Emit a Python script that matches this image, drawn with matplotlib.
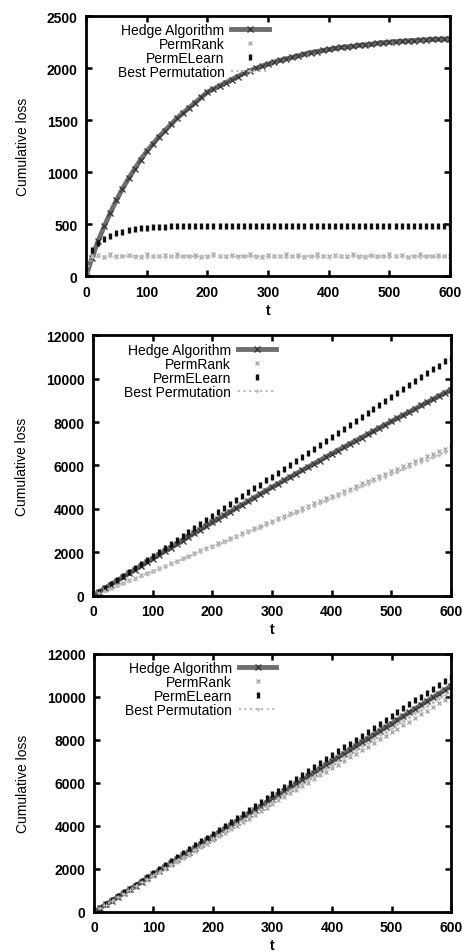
import matplotlib
matplotlib.use("Agg")
import matplotlib.pyplot as plt

plt.rcParams['font.family'] = ['Liberation Sans', 'DejaVu Sans']

t = list(range(0, 601, 10))

# panel 1
hedge_1 = [0, 180, 340, 480, 610, 730, 840, 940, 1030, 1120, 1200, 1270, 1340, 1400, 1460, 1520,
           1570, 1620, 1670, 1720, 1770, 1800, 1830, 1860, 1890, 1920, 1950, 1975, 2000, 2020, 2040,
           2060, 2075, 2090, 2105, 2120, 2135, 2150, 2160, 2170, 2180, 2190, 2200, 2205, 2210, 2220,
           2225, 2230, 2240, 2245, 2250, 2255, 2258, 2262, 2266, 2270, 2273, 2276, 2278, 2280, 2282]
rank_1 = [40, 195, 205, 190, 210, 200, 195, 205, 200, 190, 210, 200, 195, 205, 200, 210, 195, 200,
          205, 190, 200, 210, 195, 200, 205, 200, 195, 210, 200, 190, 205, 200, 195, 210, 200, 205,
          190, 200, 210, 195, 200, 205, 200, 195, 210, 200, 190, 205, 200, 195, 210, 200, 205, 190,
          200, 210, 195, 200, 205, 200, 195]
elearn_1 = [60, 250, 320, 360, 390, 415, 430, 445, 455, 462, 468, 472, 476, 478, 480, 480, 482, 480,
            481, 480, 482, 481, 480, 482, 480, 481, 482, 480, 481, 480, 482, 481, 480, 482, 480, 481,
            482, 480, 481, 480, 482, 481, 480, 482, 480, 481, 482, 480, 481, 480, 482, 481, 480, 482,
            480, 481, 482, 480, 481, 480, 482]
best_1 = [40, 185, 195, 190, 195, 190, 195, 195, 190, 195, 190, 195, 195, 190, 195, 190, 195, 195,
          190, 195, 190, 195, 195, 190, 195, 190, 195, 195, 190, 195, 190, 195, 195, 190, 195, 190,
          195, 195, 190, 195, 190, 195, 195, 190, 195, 190, 195, 195, 190, 195, 190, 195, 195, 190,
          195, 190, 195, 195, 190, 195, 190]

# panel 2
hedge_2 = [0, 170, 340, 510, 680, 850, 1020, 1190, 1360, 1530, 1700, 1870, 2040, 2200, 2370, 2540,
           2710, 2880, 3040, 3210, 3380, 3540, 3700, 3870, 4030, 4190, 4350, 4510, 4680, 4840, 5000,
           5150, 5310, 5460, 5620, 5770, 5920, 6080, 6230, 6390, 6540, 6690, 6840, 6990, 7140, 7290,
           7430, 7580, 7730, 7880, 8030, 8180, 8320, 8470, 8620, 8770, 8910, 9060, 9210, 9350, 9500]
rank_2 = [0, 120, 240, 350, 470, 570, 700, 800, 930, 1040, 1150, 1270, 1380, 1500, 1600, 1730, 1840,
          1950, 2080, 2180, 2300, 2420, 2530, 2640, 2770, 2870, 2990, 3100, 3220, 3330, 3450, 3560,
          3680, 3790, 3900, 4030, 4130, 4250, 4370, 4480, 4600, 4700, 4830, 4930, 5060, 5170, 5280,
          5400, 5510, 5620, 5750, 5850, 5980, 6080, 6210, 6320, 6430, 6550, 6650, 6780, 6900]
elearn_2 = [0, 180, 370, 550, 730, 920, 1100, 1280, 1460, 1650, 1830, 2010, 2200, 2380, 2560, 2750,
            2930, 3110, 3290, 3480, 3660, 3840, 4030, 4210, 4390, 4580, 4760, 4940, 5120, 5310, 5490,
            5670, 5860, 6040, 6220, 6410, 6590, 6770, 6950, 7140, 7320, 7500, 7690, 7870, 8050, 8240,
            8420, 8600, 8780, 8970, 9150, 9330, 9520, 9700, 9880, 10070, 10250, 10430, 10610, 10800,
            10980]
best_2 = [0, 110, 225, 335, 450, 560, 670, 785, 895, 1010, 1120, 1230, 1345, 1455, 1570, 1680, 1790,
          1905, 2015, 2130, 2240, 2350, 2465, 2575, 2690, 2800, 2910, 3025, 3135, 3250, 3360, 3470,
          3585, 3695, 3810, 3920, 4030, 4145, 4255, 4370, 4480, 4590, 4705, 4815, 4930, 5040, 5150,
          5265, 5375, 5490, 5600, 5710, 5825, 5935, 6050, 6160, 6270, 6385, 6495, 6610, 6720]

# panel 3
hedge_3 = [0, 175, 350, 525, 700, 875, 1050, 1225, 1400, 1575, 1750, 1925, 2100, 2275, 2450, 2625,
           2800, 2975, 3150, 3325, 3500, 3675, 3850, 4025, 4200, 4375, 4550, 4725, 4900, 5075, 5250,
           5425, 5600, 5775, 5950, 6125, 6300, 6475, 6650, 6825, 7000, 7175, 7350, 7525, 7700, 7875,
           8050, 8225, 8400, 8575, 8750, 8925, 9100, 9275, 9450, 9625, 9800, 9975, 10150, 10325, 10500]
rank_3 = [0, 170, 330, 500, 670, 840, 1000, 1170, 1340, 1500, 1670, 1840, 2000, 2170, 2340, 2500,
          2670, 2840, 3010, 3170, 3340, 3510, 3670, 3840, 4010, 4170, 4340, 4510, 4680, 4840, 5010,
          5180, 5340, 5510, 5680, 5840, 6010, 6180, 6350, 6510, 6680, 6850, 7010, 7180, 7350, 7510,
          7680, 7850, 8020, 8180, 8350, 8520, 8680, 8850, 9020, 9180, 9350, 9520, 9690, 9850, 10020]
elearn_3 = [0, 180, 365, 545, 730, 910, 1090, 1275, 1455, 1640, 1820, 2000, 2185, 2365, 2550, 2730,
            2910, 3095, 3275, 3460, 3640, 3820, 4005, 4185, 4370, 4550, 4730, 4915, 5095, 5280, 5460,
            5640, 5825, 6005, 6190, 6370, 6550, 6735, 6915, 7100, 7280, 7460, 7645, 7825, 8010, 8190,
            8370, 8555, 8735, 8920, 9100, 9280, 9465, 9645, 9830, 10010, 10190, 10375, 10555, 10740,
            10920]
best_3 = [0, 170, 340, 515, 685, 855, 1025, 1200, 1370, 1540, 1710, 1880, 2050, 2225, 2395, 2565,
          2735, 2910, 3080, 3250, 3420, 3590, 3760, 3935, 4105, 4275, 4445, 4620, 4790, 4960, 5130,
          5300, 5470, 5645, 5815, 5985, 6155, 6330, 6500, 6670, 6840, 7010, 7180, 7355, 7525, 7695,
          7865, 8040, 8210, 8380, 8550, 8720, 8890, 9065, 9235, 9405, 9575, 9750, 9920, 10090, 10260]

panels = [
    (hedge_1, rank_1, elearn_1, best_1, 2500, 500),
    (hedge_2, rank_2, elearn_2, best_2, 12000, 2000),
    (hedge_3, rank_3, elearn_3, best_3, 12000, 2000),
]
boxes = [
    [0.185, 0.709, 0.783, 0.273],
    [0.200, 0.374, 0.770, 0.273],
    [0.202, 0.042, 0.768, 0.271],
]

fig = plt.figure(figsize=(4.65, 9.53), dpi=100)
for (hedge, rank, elearn, best, ymax, ystep), box in zip(panels, boxes):
    ax = fig.add_axes(box)
    ax.plot(t, hedge, color='#6e6e6e', lw=3.5, marker='x', ms=4, mew=1.0,
            mec='#3a3a3a', label='Hedge Algorithm')
    ax.plot(t, rank, color='#aaaaaa', lw=0, marker='x', ms=3.5, mew=1,
            label='PermRank')
    ax.plot(t, elearn, color='#111111', lw=0, marker='|', ms=5, mew=2.4,
            label='PermELearn')
    ax.plot(t, best, color='#bbbbbb', lw=1.5, ls=':', marker='+', ms=3.5, mew=1,
            label='Best Permutation')
    ax.set_xlim(0, 600)
    ax.set_ylim(0, ymax)
    ax.set_xticks(range(0, 601, 100))
    ax.set_yticks(range(0, ymax + 1, ystep))
    ax.tick_params(direction='in', top=True, right=True, length=4, width=1.8,
                   labelsize=10, pad=6)
    for lab in ax.get_xticklabels() + ax.get_yticklabels():
        lab.set_fontweight('bold')
    for s in ax.spines.values():
        s.set_linewidth(2)
    ax.set_xlabel('t', fontsize=10, fontweight='bold', labelpad=3)
    ax.set_ylabel('Cumulative loss', fontsize=10, labelpad=12)
    ax.legend(loc='upper left', bbox_to_anchor=(0.06, 1.01), frameon=False,
              markerfirst=False, fontsize=10, handlelength=2.7, labelspacing=0.0,
              handletextpad=0.5, borderaxespad=0.3)

fig.savefig('out.png', dpi=100)
